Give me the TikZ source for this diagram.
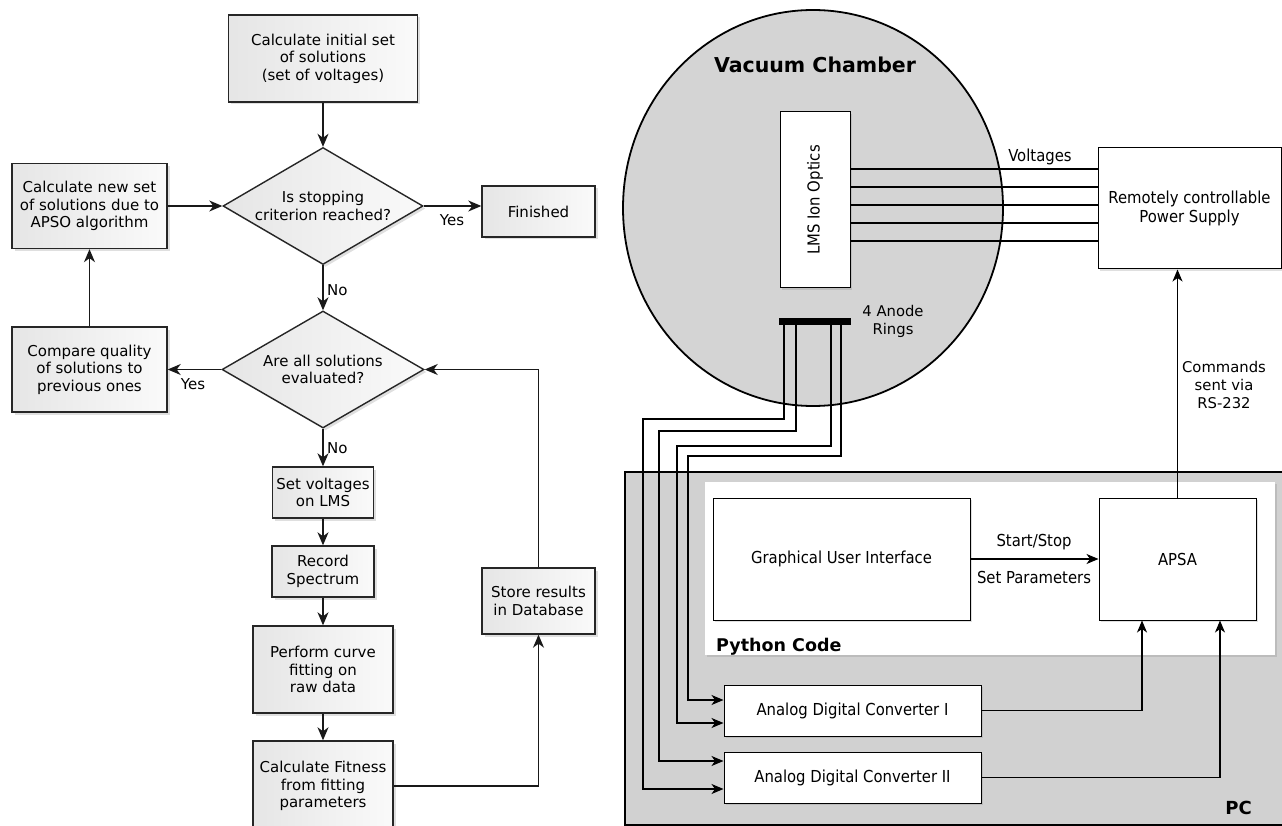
\documentclass[tikz,border=0pt]{standalone}
\usepackage{fontspec}
\setmainfont{DejaVu Sans}
\newfontfamily\condfont{DejaVu Sans Condensed}
\usetikzlibrary{shapes.geometric,arrows.meta,shadows,calc}

\tikzset{
  % flowchart (left part)
  flow/.style={draw=black!85, line width=1.4pt, left color=black!10, right color=black!2,
    drop shadow={shadow xshift=2.5pt, shadow yshift=-2.5pt, opacity=0.25},
    align=center, inner sep=0pt, font=\fontsize{15}{17.6}\selectfont},
  flowbox/.style 2 args={flow, rectangle, minimum width=#1, minimum height=#2},
  decision/.style 2 args={flow, diamond, aspect=1.7, minimum width=#1, minimum height=#2},
  link/.style={draw=black!90, line width=1.4pt, -{Stealth[length=13pt,width=11pt,inset=4pt]}},
  note/.style={font=\fontsize{15}{17.6}\selectfont, inner sep=0pt},
  % hardware / software blocks (right part)
  hw/.style={draw=black, line width=1pt, fill=white,
    drop shadow={shadow xshift=2pt, shadow yshift=-2pt, opacity=0.25},
    align=center, inner sep=0pt, font=\condfont\fontsize{16.5}{19.5}\selectfont},
  hwbox/.style 2 args={hw, rectangle, minimum width=#1, minimum height=#2},
  wire/.style={draw=black, line width=1.1pt},
  sig/.style={wire, -{Stealth[length=12pt,width=10pt,inset=3.5pt]}},
  small/.style={font=\condfont\fontsize{16.5}{19.5}\selectfont, inner sep=0pt, align=center},
  heading/.style={font=\bfseries\fontsize{20.5}{24}\selectfont, inner sep=0pt},
}

\begin{document}
\begin{tikzpicture}[x=1pt, y=-1pt]
\useasboundingbox (0,0) rectangle (1282,826);

% ---------------- optimisation loop ----------------
\node[flowbox={189pt}{87pt}] (init) at (323,58.5) {Calculate initial set\\of solutions\\(set of voltages)};
\node[decision={200pt}{117pt}] (stop) at (323,206) {Is stopping\\criterion reached?};
\node[flowbox={155pt}{85pt}] (newset) at (89.5,206) {Calculate new set\\of solutions due to\\APSO algorithm};
\node[flowbox={113pt}{51pt}] (finished) at (538.5,211.5) {Finished};
\node[decision={202pt}{117pt}] (alleval) at (323,369.5) {Are all solutions\\evaluated?};
\node[flowbox={155pt}{85pt}] (compare) at (89.5,369.5) {Compare quality\\of solutions to\\previous ones};
\node[flowbox={101pt}{51pt}] (setv) at (323,492.5) {Set voltages\\on LMS};
\node[flowbox={102pt}{51pt}] (record) at (323,571.5) {Record\\Spectrum};
\node[flowbox={140pt}{87pt}] (fit) at (323,669.5) {Perform curve\\fitting on\\raw data};
\node[flowbox={140pt}{90pt}] (fitness) at (323,786) {Calculate Fitness\\from fitting\\parameters};
\node[flowbox={113pt}{66pt}] (store) at (538.5,601) {Store results\\in Database};

\draw[link] (init) -- (stop);
\draw[link] (newset) -- (stop.west);
\draw[link] (stop.east) -- (stop.east -| finished.west);
\draw[link] (stop) -- (alleval);
\draw[link] (alleval.west) -- (compare.east);
\draw[link] (compare) -- (newset);
\draw[link] (alleval) -- (setv);
\draw[link] (setv) -- (record);
\draw[link] (record) -- (fit);
\draw[link] (fit) -- (fitness);
\draw[link] (fitness.east) -| (store.south);
\draw[link] (store.north) |- (alleval.east);

\node[note] (yes1) at (452,220) {Yes};
\node[note, anchor=west] (no1) at (327,290) {No};
\node[note] (yes2) at (193,384) {Yes};
\node[note, anchor=west] (no2) at (327,448) {No};

% ---------------- PC ----------------
\node[draw=black, line width=2pt, fill=black!18, minimum width=665pt, minimum height=353pt, inner sep=0pt] (pc) at (957.5,648.5) {};
\node[font=\bfseries\fontsize{18}{20}\selectfont, anchor=base east, inner sep=0pt] (pclabel) at (1252,814) {PC};
\node[fill=white, minimum width=570pt, minimum height=173pt, inner sep=0pt,
  drop shadow={shadow xshift=2pt, shadow yshift=-2pt, opacity=0.25}] (py) at (990,568.5) {};
\node[font=\bfseries\fontsize{17.5}{20}\selectfont, anchor=base west, inner sep=0pt] (pylabel) at (716,651) {Python Code};

\node[hwbox={257pt}{122pt}] (gui) at (841.5,559) {Graphical User Interface};
\node[hwbox={157pt}{122pt}] (apsa) at (1177.5,559) {APSA};
\node[hwbox={257pt}{51pt}] (adc1) at (852.5,710.5) {Analog Digital Converter I};
\node[hwbox={257pt}{51pt}] (adc2) at (852.5,777.5) {Analog Digital Converter II};

\draw[sig] (gui) -- (apsa);
\node[small] (startstop) at (1034,542) {Start/Stop};
\node[small] (setpar) at (1034,577) {Set Parameters};
\draw[sig] (adc1.east) -| (apsa.south -| 1142,0);
\draw[sig] (adc2.east) -| (apsa.south -| 1220,0);

% ---------------- vacuum chamber ----------------
\node[ellipse, draw=black, line width=1.8pt, fill=black!17, minimum width=380pt, minimum height=396pt, inner sep=0pt] (chamber) at (813,208) {};
\node[heading] (chambertitle) at (815,65) {Vacuum Chamber};
\node[hwbox={70pt}{176pt}] (lms) at (815,200) {};
\node[small, rotate=90] (lmslabel) at (815,200) {LMS Ion Optics};
\node[hwbox={183pt}{121pt}] (ps) at (1189.5,208.5) {Remotely controllable\\Power Supply};

\foreach \yy in {169,187,205,223,241}
  \draw[wire] (lms.east |- 0,\yy) -- (ps.west |- 0,\yy);
\node[small] (voltages) at (1040,157) {Voltages};

\draw[sig] (apsa.north) -- (ps.south -| apsa.north);
\node[note, align=center, font=\fontsize{14.8}{18}\selectfont] (rs) at (1224,385) {Commands\\sent via\\RS-232};

% anode rings and their read-out lines
\node[fill=black, minimum width=72pt, minimum height=7pt, inner sep=0pt] (anode) at (815,321.5) {};
\node[note, align=center, font=\fontsize{14.8}{18}\selectfont] (anodelabel) at (893,321) {4 Anode\\Rings};
\coordinate (r1) at (784,325);
\coordinate (r2) at (796,325);
\coordinate (r3) at (831,325);
\coordinate (r4) at (841,325);
\draw[sig] (r1) -- (784,419) -- (643,419) -- (643,789) -- (adc2.west |- 0,789);
\draw[sig] (r2) -- (796,431) -- (659,431) -- (659,761) -- (adc2.west |- 0,761);
\draw[sig] (r3) -- (831,446) -- (677,446) -- (677,723) -- (adc1.west |- 0,723);
\draw[sig] (r4) -- (841,456) -- (688,456) -- (688,700) -- (adc1.west |- 0,700);
\end{tikzpicture}
\end{document}
